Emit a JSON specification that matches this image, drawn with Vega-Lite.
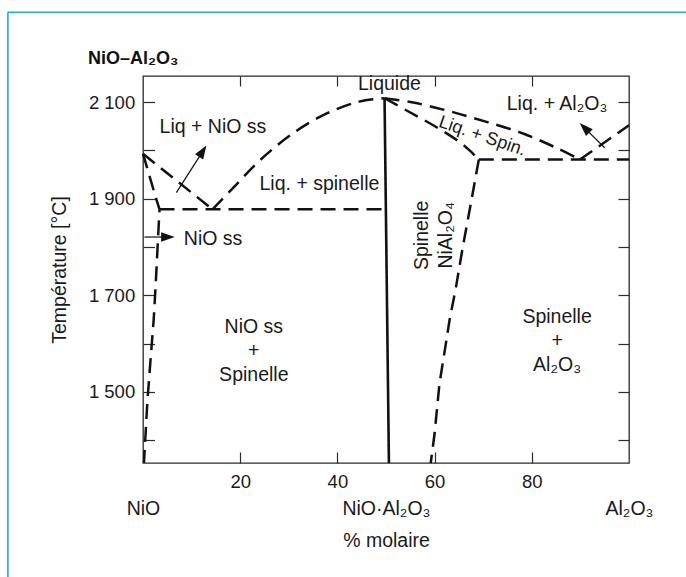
{
  "$schema": "https://vega.github.io/schema/vega-lite/v6.json",
  "width": 486,
  "height": 387,
  "autosize": {"type": "none"},
  "padding": {"left": 143, "top": 76, "right": 57, "bottom": 114},
  "background": "white",
  "config": {
    "view": {"stroke": "#2b2b2b", "strokeWidth": 1.3},
    "font": "Liberation Sans",
    "axis": {"domain": false, "grid": false, "tickColor": "#2b2b2b", "tickWidth": 1.2, "labelFont": "Liberation Sans", "labelFontSize": 18.5, "labelColor": "#1a1a1a", "titleFont": "Liberation Sans", "titleFontSize": 19.5, "titleFontWeight": "normal", "titleColor": "#1a1a1a", "labelOverlap": false, "labelBound": false, "labelFlush": false},
    "text": {"font": "Liberation Sans", "fontSize": 19.5, "color": "#1a1a1a"}
  },
  "title": {"text": "NiO–Al₂O₃", "anchor": "start", "frame": "group", "font": "Liberation Sans", "fontSize": 18, "fontWeight": "bold", "color": "#111111", "baseline": "alphabetic", "offset": 0, "dx": -55, "dy": 71},
  "datasets": {
    "frame": [
      {"x": -27.8, "x2": 115, "T": 2286, "T2": 2286},
      {"x": -27.8, "x2": -27.8, "T": 2286, "T2": 1100}
    ],
    "dashed_lines": [
      {"s": "a", "o": 0, "x": 0, "T": 1993},
      {"s": "a", "o": 1, "x": 14.3, "T": 1878},
      {"s": "b", "o": 0, "x": 0, "T": 1993},
      {"s": "b", "o": 1, "x": 2.7, "T": 1900},
      {"s": "b", "o": 2, "x": 3.4, "T": 1878},
      {"s": "b", "o": 3, "x": 3.0, "T": 1800},
      {"s": "b", "o": 4, "x": 2.6, "T": 1720},
      {"s": "b", "o": 5, "x": 2.2, "T": 1650},
      {"s": "b", "o": 6, "x": 1.5, "T": 1560},
      {"s": "b", "o": 7, "x": 0.9, "T": 1480},
      {"s": "b", "o": 8, "x": 0.2, "T": 1353},
      {"s": "c", "o": 0, "x": 3.4, "T": 1878},
      {"s": "c", "o": 1, "x": 49.9, "T": 1878},
      {"s": "g", "o": 0, "x": 69.1, "T": 1981},
      {"s": "g", "o": 1, "x": 67.2, "T": 1876},
      {"s": "g", "o": 2, "x": 65.8, "T": 1800},
      {"s": "g", "o": 3, "x": 64.4, "T": 1717},
      {"s": "g", "o": 4, "x": 63.1, "T": 1650},
      {"s": "g", "o": 5, "x": 62.0, "T": 1580},
      {"s": "g", "o": 6, "x": 61.0, "T": 1517},
      {"s": "g", "o": 7, "x": 60.0, "T": 1414},
      {"s": "g", "o": 8, "x": 59.2, "T": 1353},
      {"s": "h", "o": 0, "x": 69.1, "T": 1981},
      {"s": "h", "o": 1, "x": 100, "T": 1981},
      {"s": "i", "o": 0, "x": 89.9, "T": 1981},
      {"s": "i", "o": 1, "x": 100, "T": 2052}
    ],
    "dashed_curves": [
      {"s": "d", "o": 0, "x": 14.3, "T": 1878},
      {"s": "d", "o": 1, "x": 18.5, "T": 1922},
      {"s": "d", "o": 2, "x": 24.0, "T": 1979},
      {"s": "d", "o": 3, "x": 30.8, "T": 2035},
      {"s": "d", "o": 4, "x": 37.7, "T": 2076},
      {"s": "d", "o": 5, "x": 44.5, "T": 2101},
      {"s": "d", "o": 6, "x": 49.7, "T": 2108},
      {"s": "e", "o": 0, "x": 49.7, "T": 2108},
      {"s": "e", "o": 1, "x": 55.6, "T": 2099},
      {"s": "e", "o": 2, "x": 63.1, "T": 2081},
      {"s": "e", "o": 3, "x": 70.7, "T": 2059},
      {"s": "e", "o": 4, "x": 78.2, "T": 2035},
      {"s": "e", "o": 5, "x": 85.1, "T": 2005},
      {"s": "e", "o": 6, "x": 89.9, "T": 1981},
      {"s": "f", "o": 0, "x": 49.7, "T": 2108},
      {"s": "f", "o": 1, "x": 54.9, "T": 2079},
      {"s": "f", "o": 2, "x": 60.4, "T": 2048},
      {"s": "f", "o": 3, "x": 65.2, "T": 2017},
      {"s": "f", "o": 4, "x": 67.2, "T": 2000},
      {"s": "f", "o": 5, "x": 69.1, "T": 1981}
    ],
    "solid_line": [
      {"s": "spinel", "o": 0, "x": 49.7, "T": 2108},
      {"s": "spinel", "o": 1, "x": 50.6, "T": 1353}
    ],
    "arrows": [
      {"s": "a1", "o": 0, "x": 6.86, "T": 1912.5},
      {"s": "a1", "o": 1, "x": 12.16, "T": 1996},
      {"s": "a2", "o": 0, "x": 0.3, "T": 1820.7},
      {"s": "a2", "o": 1, "x": 4.9, "T": 1820.7},
      {"s": "a3", "o": 0, "x": 95.0, "T": 2005.6},
      {"s": "a3", "o": 1, "x": 91.0, "T": 2045}
    ],
    "heads": [
      {"s": "a1", "x": 12.16, "T": 1996.3, "dir": 32.4},
      {"s": "a2", "x": 4.88, "T": 1820.7, "dir": 90},
      {"s": "a3", "x": 91.03, "T": 2045, "dir": -45.5}
    ],
    "labels_center": [
      {"label": "Liquide", "x": 50.7, "T": 2136.6},
      {"label": "Liq + NiO ss", "x": 14.4, "T": 2047.7},
      {"label": "Liq. + spinelle", "x": 36.3, "T": 1929.7},
      {"label": "Liq. + Al₂O₃", "x": 85.2, "T": 2096.3},
      {"label": "NiO ss\n+\nSpinelle", "x": 22.8, "T": 1633.8},
      {"label": "Spinelle\n+\nAl₂O₃", "x": 85.2, "T": 1656.2}
    ],
    "labels_left": [
      {"label": "NiO ss", "x": 8.4, "T": 1817.4}
    ],
    "labels_vertical": [
      {"label": "Spinelle\nNiAl₂O₄", "x": 57.4, "T": 1824.2}
    ],
    "labels_slanted": [
      {"label": "Liq. + Spin.", "x": 69.8, "T": 2029}
    ]
  },
  "resolve": {"axis": {"x": "independent", "y": "independent"}},
  "layer": [
    {
      "data": {"name": "frame"},
      "mark": {"type": "rule", "color": "#25A9DF", "strokeWidth": 1.6},
      "encoding": {
        "x": {"field": "x", "type": "quantitative", "scale": {"domain": [0, 100], "nice": false, "zero": false}, "axis": null},
        "x2": {"field": "x2"},
        "y": {"field": "T", "type": "quantitative", "scale": {"domain": [1353, 2154], "nice": false, "zero": false}, "axis": null},
        "y2": {"field": "T2"}
      }
    },
    {
      "data": {"name": "dashed_lines"},
      "mark": {"type": "line", "color": "#111111", "strokeWidth": 2.5, "strokeDash": [15, 8], "strokeCap": "butt"},
      "encoding": {
        "x": {"field": "x", "type": "quantitative", "scale": {"domain": [0, 100], "nice": false, "zero": false},
              "axis": {"orient": "bottom", "values": [20, 40, 60, 80], "tickSize": -11, "labelPadding": 29.4, "labelBaseline": "middle", "format": "d", "title": null}},
        "y": {"field": "T", "type": "quantitative", "scale": {"domain": [1353, 2154], "nice": false, "zero": false},
              "axis": {"orient": "left", "values": [1400, 1500, 1600, 1700, 1800, 1900, 2000, 2100], "tickSize": -11.5, "labelPadding": 19.8,
                       "labelExpr": "datum.value % 200 == 100 ? replace(format(datum.value, ','), ',', ' ') : ''",
                       "title": "Température [°C]", "titleX": -84, "titleAngle": -90, "titleBaseline": "middle"}},
        "detail": {"field": "s", "type": "nominal"},
        "order": {"field": "o", "type": "quantitative"}
      }
    },
    {
      "data": {"name": "dashed_curves"},
      "mark": {"type": "line", "color": "#111111", "strokeWidth": 2.5, "strokeDash": [15, 8], "strokeCap": "butt", "interpolate": "catmull-rom"},
      "encoding": {
        "x": {"field": "x", "type": "quantitative", "scale": {"domain": [0, 100], "nice": false, "zero": false},
              "axis": {"orient": "top", "values": [20, 40, 60, 80], "tickSize": -10, "labels": false, "title": null}},
        "y": {"field": "T", "type": "quantitative", "scale": {"domain": [1353, 2154], "nice": false, "zero": false},
              "axis": {"orient": "right", "values": [1400, 1500, 1600, 1700, 1800, 1900, 2000, 2100], "tickSize": -11, "labels": false, "title": null}},
        "detail": {"field": "s", "type": "nominal"},
        "order": {"field": "o", "type": "quantitative"}
      }
    },
    {
      "data": {"name": "solid_line"},
      "mark": {"type": "line", "color": "#111111", "strokeWidth": 2.6},
      "encoding": {
        "x": {"field": "x", "type": "quantitative", "scale": {"domain": [0, 100], "nice": false, "zero": false}, "axis": null},
        "y": {"field": "T", "type": "quantitative", "scale": {"domain": [1353, 2154], "nice": false, "zero": false}, "axis": null},
        "detail": {"field": "s", "type": "nominal"},
        "order": {"field": "o", "type": "quantitative"}
      }
    },
    {
      "data": {"name": "arrows"},
      "mark": {"type": "line", "color": "#111111", "strokeWidth": 1.2},
      "encoding": {
        "x": {"field": "x", "type": "quantitative", "scale": {"domain": [0, 100], "nice": false, "zero": false},
              "axis": {"orient": "bottom", "values": [0, 50, 100], "ticks": false, "labelPadding": 45.4, "labelBaseline": "middle", "labelFontSize": 19.5,
                       "labelExpr": "datum.value == 0 ? 'NiO' : (datum.value == 50 ? 'NiO·Al₂O₃' : 'Al₂O₃')",
                       "title": "% molaire", "titleY": 77.4, "titleBaseline": "middle"}},
        "y": {"field": "T", "type": "quantitative", "scale": {"domain": [1353, 2154], "nice": false, "zero": false}, "axis": null},
        "detail": {"field": "s", "type": "nominal"},
        "order": {"field": "o", "type": "quantitative"}
      }
    },
    {
      "data": {"name": "heads"},
      "mark": {"type": "point", "shape": "M0,-1L0.6,0.7L-0.6,0.7Z", "size": 256, "filled": true, "color": "#111111", "opacity": 1, "strokeWidth": 0},
      "encoding": {
        "x": {"field": "x", "type": "quantitative", "scale": {"domain": [0, 100], "nice": false, "zero": false}, "axis": null},
        "y": {"field": "T", "type": "quantitative", "scale": {"domain": [1353, 2154], "nice": false, "zero": false}, "axis": null},
        "angle": {"field": "dir", "type": "quantitative", "scale": null}
      }
    },
    {
      "data": {"name": "labels_center"},
      "mark": {"type": "text", "align": "center", "baseline": "middle", "lineBreak": "\n", "lineHeight": 24},
      "encoding": {
        "x": {"field": "x", "type": "quantitative", "scale": {"domain": [0, 100], "nice": false, "zero": false}, "axis": null},
        "y": {"field": "T", "type": "quantitative", "scale": {"domain": [1353, 2154], "nice": false, "zero": false}, "axis": null},
        "text": {"field": "label", "type": "nominal"}
      }
    },
    {
      "data": {"name": "labels_left"},
      "mark": {"type": "text", "align": "left", "baseline": "middle"},
      "encoding": {
        "x": {"field": "x", "type": "quantitative", "scale": {"domain": [0, 100], "nice": false, "zero": false}, "axis": null},
        "y": {"field": "T", "type": "quantitative", "scale": {"domain": [1353, 2154], "nice": false, "zero": false}, "axis": null},
        "text": {"field": "label", "type": "nominal"}
      }
    },
    {
      "data": {"name": "labels_vertical"},
      "mark": {"type": "text", "align": "center", "baseline": "middle", "angle": -90, "lineBreak": "\n", "lineHeight": 24},
      "encoding": {
        "x": {"field": "x", "type": "quantitative", "scale": {"domain": [0, 100], "nice": false, "zero": false}, "axis": null},
        "y": {"field": "T", "type": "quantitative", "scale": {"domain": [1353, 2154], "nice": false, "zero": false}, "axis": null},
        "text": {"field": "label", "type": "nominal"}
      }
    },
    {
      "data": {"name": "labels_slanted"},
      "mark": {"type": "text", "align": "center", "baseline": "middle", "angle": 19, "fontSize": 18},
      "encoding": {
        "x": {"field": "x", "type": "quantitative", "scale": {"domain": [0, 100], "nice": false, "zero": false}, "axis": null},
        "y": {"field": "T", "type": "quantitative", "scale": {"domain": [1353, 2154], "nice": false, "zero": false}, "axis": null},
        "text": {"field": "label", "type": "nominal"}
      }
    }
  ]
}
